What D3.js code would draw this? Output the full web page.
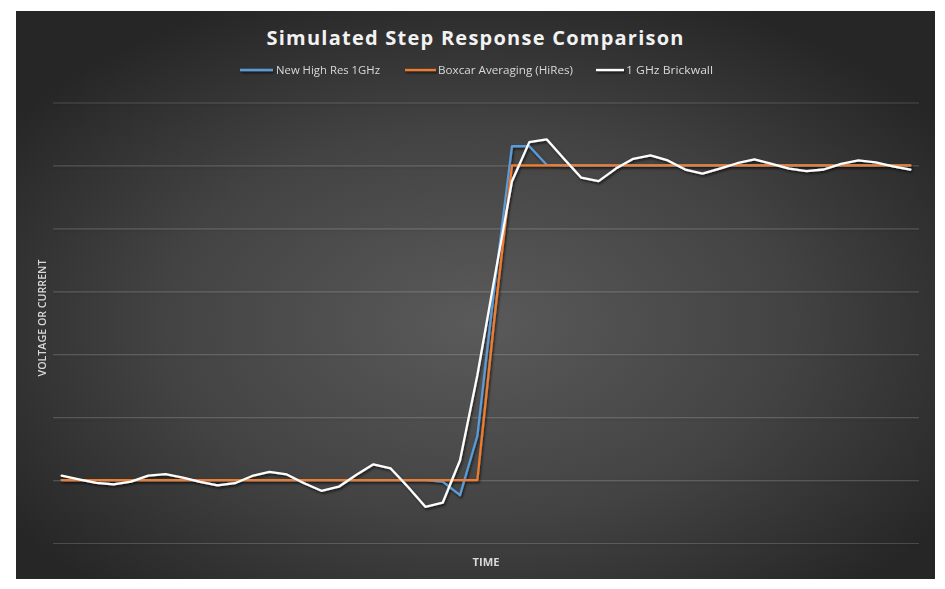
<!DOCTYPE html>
<html>
<head>
<meta charset="utf-8">
<script src="https://cdn.jsdelivr.net/npm/d3@7/dist/d3.min.js"></script>
<style>
  html, body { margin: 0; padding: 0; background: #ffffff; }
  svg { display: block; }
</style>
</head>
<body>
<svg id="chart" width="945" height="589"></svg>
<script>
// ---------------- DATA ----------------
const chartTitle = "Simulated Step Response Comparison";
const xAxisTitle = "TIME";
const yAxisTitle = "VOLTAGE OR CURRENT";
const seriesNames = ["New High Res 1GHz", "Boxcar Averaging (HiRes)", "1 GHz Brickwall"];

// time sample index (category axis, no labels shown)
const timeIndex = d3.range(50);

const highRes = [
  0, 0, 0, 0, 0, 0, 0, 0, 0, 0,
  0, 0, 0, 0, 0, 0, 0, 0, 0, 0,
  0, 0, -0.005, -0.048, 0.14, 0.62, 1.061, 1.061, 1.002, 1.0,
  1.0, 1.0, 1.0, 1.0, 1.0, 1.0, 1.0, 1.0, 1.0, 1.0,
  1.0, 1.0, 1.0, 1.0, 1.0, 1.0, 1.0, 1.0, 1.0, 1.0
];

const boxcar = [
  0, 0, 0, 0, 0, 0, 0, 0, 0, 0,
  0, 0, 0, 0, 0, 0, 0, 0, 0, 0,
  0, 0, 0, 0, 0, 0.52, 1.0, 1.0, 1.0, 1.0,
  1.0, 1.0, 1.0, 1.0, 1.0, 1.0, 1.0, 1.0, 1.0, 1.0,
  1.0, 1.0, 1.0, 1.0, 1.0, 1.0, 1.0, 1.0, 1.0, 1.0
];

const brickwall = [
  0.014, 0.002, -0.009, -0.014, -0.005, 0.014, 0.019, 0.008, -0.006, -0.017,
  -0.010, 0.013, 0.026, 0.018, -0.010, -0.034, -0.021, 0.016, 0.050, 0.037,
  -0.022, -0.085, -0.072, 0.063, 0.333, 0.645, 0.950, 1.074, 1.083, 1.021,
  0.961, 0.950, 0.990, 1.021, 1.032, 1.016, 0.987, 0.974, 0.990, 1.007,
  1.019, 1.005, 0.990, 0.982, 0.987, 1.005, 1.016, 1.010, 0.997, 0.987
];

// value-axis gridline positions (labels hidden in original)
const yTicks = [-0.2, 0, 0.2, 0.4, 0.6, 0.8, 1.0, 1.2];
const yDomain = [-0.2, 1.2];

const seriesColors = ["#5B9BD5", "#ED7D31", "#FFFFFF"];
const seriesData = [highRes, boxcar, brickwall];

// ---------------- LAYOUT ----------------
const W = 945, H = 589;
const svg = d3.select("#chart");
const bg = { x: 16, y: 11, w: 919, h: 568 };
const plot = { left: 53, right: 919, top: 102.5, bottom: 543 };

const defs = svg.append("defs");
const grad = defs.append("radialGradient")
  .attr("id", "bgGrad")
  .attr("cx", "50%").attr("cy", "55%").attr("r", "62%");
grad.append("stop").attr("offset", "0%").attr("stop-color", "#5a5a5a");
grad.append("stop").attr("offset", "55%").attr("stop-color", "#434343");
grad.append("stop").attr("offset", "100%").attr("stop-color", "#262626");

const sh = defs.append("filter").attr("id", "shadow")
  .attr("filterUnits", "userSpaceOnUse")
  .attr("x", 0).attr("y", 0).attr("width", W).attr("height", H);
sh.append("feDropShadow")
  .attr("dx", 1.2).attr("dy", 1.8).attr("stdDeviation", 1.3)
  .attr("flood-color", "#000").attr("flood-opacity", 0.65);

const gsh = defs.append("filter").attr("id", "gshadow")
  .attr("filterUnits", "userSpaceOnUse")
  .attr("x", 0).attr("y", 0).attr("width", W).attr("height", H);
gsh.append("feDropShadow")
  .attr("dx", 0).attr("dy", 1.5).attr("stdDeviation", 0.8)
  .attr("flood-color", "#000").attr("flood-opacity", 0.45);

svg.append("rect")
  .attr("x", bg.x).attr("y", bg.y).attr("width", bg.w).attr("height", bg.h)
  .attr("fill", "url(#bgGrad)");

// scales
const xBand = d3.scaleBand().domain(timeIndex).range([plot.left, plot.right]).paddingInner(0).paddingOuter(0);
const x = i => xBand(i) + xBand.bandwidth() / 2;
const y = d3.scaleLinear().domain(yDomain).range([plot.bottom, plot.top]);

// gridlines via axis
const yAxis = d3.axisLeft(y).tickValues(yTicks).tickSize(-(plot.right - plot.left)).tickFormat("");
const gAxis = svg.append("g")
  .attr("transform", `translate(${plot.left},0)`)
  .attr("filter", "url(#gshadow)")
  .call(yAxis);
gAxis.select(".domain").remove();
gAxis.selectAll(".tick line")
  .attr("stroke", "#d9d9d9").attr("stroke-opacity", 0.2).attr("stroke-width", 1.2);

// lines
const line = d3.line().x((d, i) => x(i)).y(d => y(d));
const gLines = svg.append("g").attr("filter", "url(#shadow)");
seriesData.forEach((data, k) => {
  gLines.append("path")
    .datum(data)
    .attr("d", line)
    .attr("fill", "none")
    .attr("stroke", seriesColors[k])
    .attr("stroke-width", 2.3)
    .attr("stroke-linejoin", "round")
    .attr("stroke-linecap", "round");
});

// title
const title = svg.append("text")
  .attr("x", 475).attr("y", 45)
  .attr("text-anchor", "middle")
  .attr("font-family", "'Open Sans', 'Noto Sans', sans-serif")
  .attr("font-weight", 700)
  .attr("font-size", 20)
  .attr("fill", "#F2F2F2")
  .text(chartTitle);
(function fitTitle() {
  const w = title.node().getComputedTextLength();
  const target = 417;
  const n = chartTitle.length;
  const ls = (target - w) / (n - 1);
  title.attr("letter-spacing", ls.toFixed(2));
  title.attr("x", 475 + ls / 2);
})();

// legend
const legendY = 70;
const legendItems = [
  { lx: 240, len: 33, tx: 276, tw: 104 },
  { lx: 405, len: 31, tx: 438, tw: 135 },
  { lx: 596, len: 28, tx: 626, tw: 87 }
];
const gLeg = svg.append("g");
const gLegLines = gLeg.append("g").attr("filter", "url(#shadow)");
legendItems.forEach((it, k) => {
  gLegLines.append("line")
    .attr("x1", it.lx).attr("x2", it.lx + it.len)
    .attr("y1", legendY).attr("y2", legendY)
    .attr("stroke", seriesColors[k]).attr("stroke-width", 2.3);
  gLeg.append("text")
    .attr("x", it.tx).attr("y", legendY + 4)
    .attr("font-family", "'Open Sans', 'Noto Sans', sans-serif")
    .attr("font-size", 11)
    .attr("fill", "#D9D9D9")
    .attr("textLength", it.tw)
    .attr("lengthAdjust", "spacingAndGlyphs")
    .text(seriesNames[k]);
});

// axis titles
svg.append("text")
  .attr("x", (plot.left + plot.right) / 2).attr("y", 566)
  .attr("text-anchor", "middle")
  .attr("font-family", "'Open Sans', 'Noto Sans', sans-serif")
  .attr("font-weight", 700)
  .attr("font-size", 11)
  .attr("fill", "#D9D9D9")
  .attr("textLength", 27)
  .attr("lengthAdjust", "spacingAndGlyphs")
  .text(xAxisTitle);

svg.append("text")
  .attr("transform", `translate(46, 318) rotate(-90)`)
  .attr("text-anchor", "middle")
  .attr("font-family", "'Open Sans', 'Noto Sans', sans-serif")
  .attr("font-weight", 600)
  .attr("font-size", 11)
  .attr("fill", "#D9D9D9")
  .attr("textLength", 117)
  .attr("lengthAdjust", "spacingAndGlyphs")
  .text(yAxisTitle);
</script>
</body>
</html>
